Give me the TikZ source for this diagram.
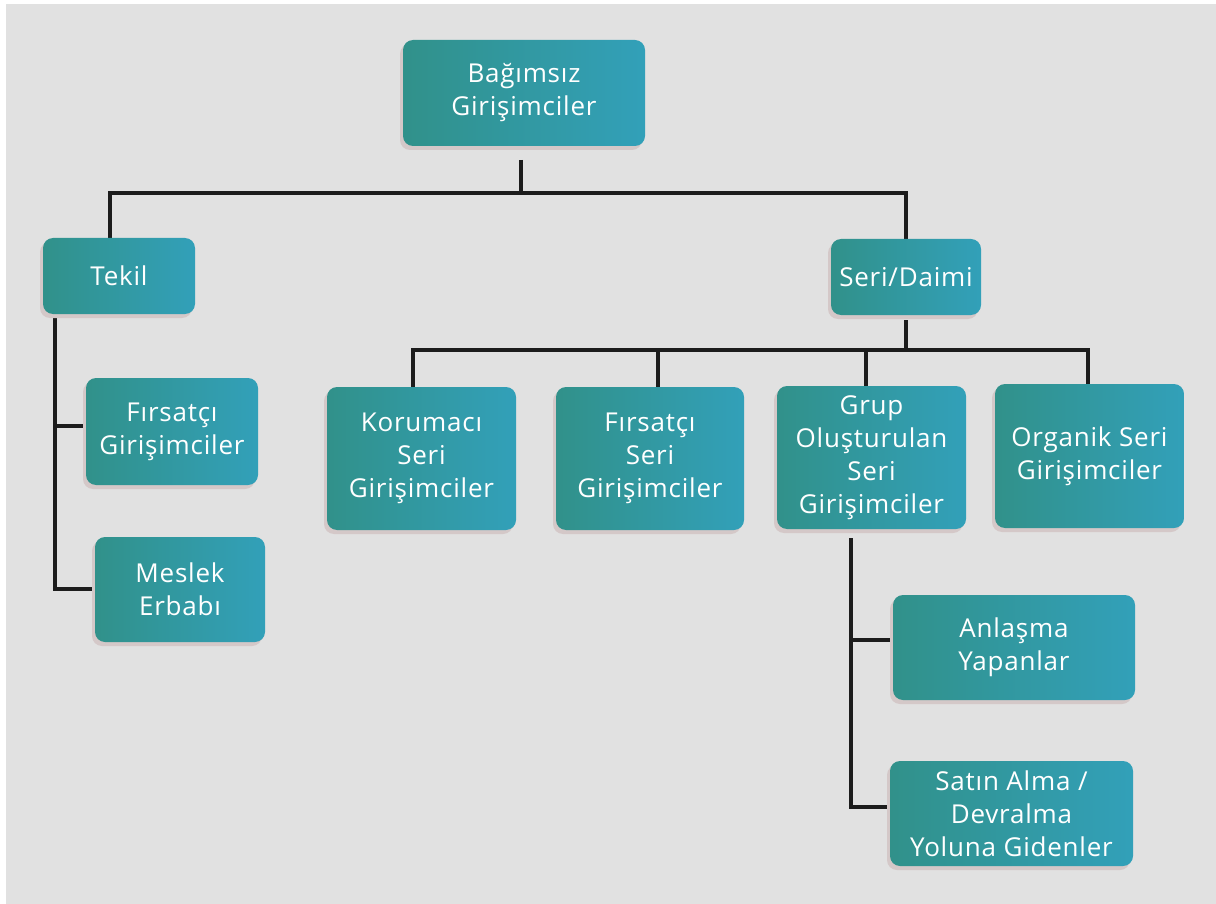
\documentclass[tikz,border=0pt]{standalone}
\usepackage{fontspec}
\setmainfont{Open Sans}[LetterSpace=3]
\usetikzlibrary{shadows}
\definecolor{pagebg}{HTML}{E1E1E1}
\definecolor{tealL}{HTML}{31918A}
\definecolor{tealR}{HTML}{32A0B9}
\definecolor{shadowcol}{HTML}{D4C8C8}
\definecolor{linecol}{HTML}{1C1C1C}
\pgfdeclarelayer{paper}
\pgfdeclarelayer{links}
\pgfsetlayers{paper,links,main}
\tikzset{
  box/.style={rounded corners=10pt, align=center, text=white, inner sep=0pt,
    left color=tealL, right color=tealR,
    font=\fontsize{26}{33}\selectfont,
    drop shadow={shadow xshift=-3pt, shadow yshift=-4pt, fill=shadowcol, opacity=1}},
  sz/.style 2 args={minimum width=#1pt, minimum height=#2pt},
  link/.style={draw=linecol, line width=4.5pt}
}
\begin{document}
\begin{tikzpicture}[x=1pt,y=-1pt]
  \begin{pgfonlayer}{paper}
    \fill[white] (0,0) rectangle (1216,904);
    \fill[pagebg] (6,4) rectangle (1216,904);
  \end{pgfonlayer}
  \useasboundingbox (0,0) rectangle (1216,904);

  % boxes
  \node[box, sz={242}{106}] (root) at (524,93) {Bağımsız\\Girişimciler};
  \node[box, sz={152}{76}] (tekil) at (119,276) {Tekil};
  \node[box, sz={150}{76}] (seri) at (906,277) {Seri/Daimi};
  \node[box, sz={172}{107}] (tfirsat) at (172,431.5) {Fırsatçı\\Girişimciler};
  \node[box, sz={170}{105}] (meslek) at (180,589.5) {Meslek\\Erbabı};
  \node[box, sz={189}{143}] (koru) at (421.5,458.5) {Korumacı\\Seri\\Girişimciler};
  \node[box, sz={188}{143}] (sfirsat) at (650,458.5) {Fırsatçı\\Seri\\Girişimciler};
  \node[box, sz={189}{143}] (grup) at (871.5,457.5) {Grup\\Oluşturulan\\Seri\\Girişimciler};
  \node[box, sz={189}{144}] (organik) at (1089.5,456) {Organik Seri\\Girişimciler};
  \node[box, sz={242}{105}] (anlasma) at (1014,647.5) {Anlaşma\\Yapanlar};
  \node[box, sz={243}{105}] (satin) at (1011.5,813.5) {Satın Alma /\\Devralma\\Yoluna Gidenler};

  % junction points and entry points on the box edges
  \coordinate (rootstem) at (521,160);
  \coordinate (bar1) at (521,193);
  \coordinate (tekilin) at (110,240);
  \coordinate (seriin) at (906,241);
  \coordinate (seristem) at (906,320);
  \coordinate (bar2) at (906,350);
  \coordinate (koruin) at (413,389);
  \coordinate (sfirsatin) at (658,389);
  \coordinate (grupin) at (866,388);
  \coordinate (organikin) at (1088,386);
  \coordinate (tekilrail) at (55,314);
  \coordinate (tfirsatin) at (88,426);
  \coordinate (meslekin) at (97,589);
  \coordinate (gruprail) at (851,538);
  \coordinate (anlasmain) at (895,640);
  \coordinate (satinin) at (892,807);

  % connectors
  \begin{pgfonlayer}{links}
    \draw[link] (rootstem) -- (bar1);
    \draw[link] (bar1) -| (tekilin);
    \draw[link] (bar1) -| (seriin);
    \draw[link] (seristem) -- (bar2);
    \draw[link] (bar2) -| (koruin);
    \draw[link] (bar2) -| (sfirsatin);
    \draw[link] (bar2) -| (grupin);
    \draw[link] (bar2) -| (organikin);
    \draw[link] (tekilrail) |- (tfirsatin);
    \draw[link] (tekilrail) |- (meslekin);
    \draw[link] (gruprail) |- (anlasmain);
    \draw[link] (gruprail) |- (satinin);
  \end{pgfonlayer}
\end{tikzpicture}
\end{document}
